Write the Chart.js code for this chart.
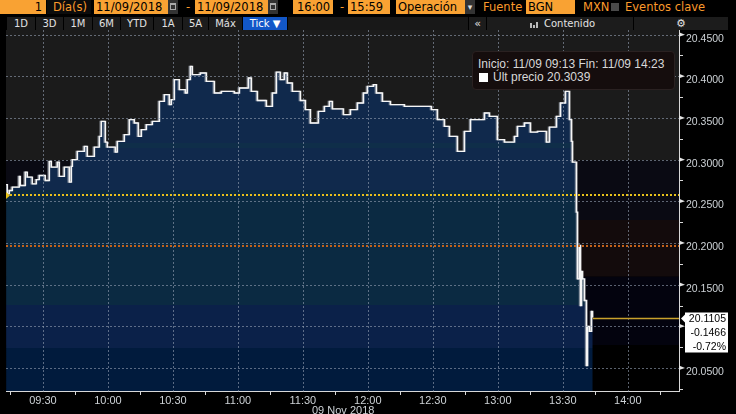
<!DOCTYPE html>
<html>
<head>
<meta charset="utf-8">
<script src="https://cdn.jsdelivr.net/npm/chart.js@4.4.1/dist/chart.umd.min.js"></script>
<style>
html, body { margin: 0; padding: 0; background: #000; width: 736px; height: 414px; overflow: hidden; }
body { position: relative; font-family: "DejaVu Sans", sans-serif; }
.a { position: absolute; white-space: nowrap; box-sizing: border-box; }
.ob { top: 0; height: 14px; line-height: 14px; font-size: 11.5px; background: #f9a233; color: #000; padding-left: 2px; }
.ot { top: 0; height: 14px; line-height: 14px; font-size: 11.5px; color: #fb9a2b; }
.ic { top: 0; height: 14px; width: 10px; background: #333; }
.ic i { position: absolute; left: 2px; top: 3px; width: 6px; height: 7px; border: 1px solid #aaa; border-top-width: 2px; box-sizing: border-box; }
.tab { top: 17px; height: 13px; line-height: 13px; font-size: 10px; color: #e2e2e2; text-align: center; background: #1c1c1c; }
</style>
</head>
<body>
<!-- top bar -->
<div class="a ob" style="left:0;width:46px;text-align:right;padding-right:4px">1</div>
<div class="a" style="left:47px;top:0;width:44px;height:14px;background:#0c0c0c"></div>
<div class="a ot" style="left:53px">Día(s)</div>
<div class="a ob" style="left:94px;width:74px">11/09/2018</div>
<div class="a ic" style="left:168px"><i></i></div>
<div class="a ot" style="left:186px">-</div>
<div class="a ob" style="left:195px;width:73px">11/09/2018</div>
<div class="a ic" style="left:268px"><i></i></div>
<div class="a ob" style="left:293px;width:40px;padding-left:4px">16:00</div>
<div class="a ot" style="left:340px">-</div>
<div class="a ob" style="left:348px;width:42px">15:59</div>
<div class="a ob" style="left:396px;width:69px">Operación</div>
<div class="a ic" style="left:465px;color:#ddd;font-size:9px;line-height:14px;text-align:center">▾</div>
<div class="a ot" style="left:483px">Fuente</div>
<div class="a ob" style="left:526px;width:49px">BGN</div>
<div class="a ot" style="left:583px">MXN</div>
<div class="a" style="left:611px;top:3px;width:8px;height:8px;background:#4a4a4a"></div>
<div class="a ot" style="left:625px">Eventos clave</div>

<!-- tab row -->
<div class="a tab" style="left:7px;width:28px">1D</div>
<div class="a tab" style="left:36px;width:27px">3D</div>
<div class="a tab" style="left:64px;width:28px">1M</div>
<div class="a tab" style="left:93px;width:27px">6M</div>
<div class="a tab" style="left:121px;width:32px">YTD</div>
<div class="a tab" style="left:154px;width:28px">1A</div>
<div class="a tab" style="left:183px;width:25px">5A</div>
<div class="a tab" style="left:209px;width:33px">Máx</div>
<div class="a tab" style="left:243px;width:44px;background:#1257c8;color:#fff">Tick ▼</div>
<div class="a tab" style="left:288px;width:180px;background:#181818"></div>
<div class="a tab" style="left:469px;width:17px;font-size:11px">«</div>
<div class="a tab" style="left:487px;width:146px"></div>
<div class="a" style="left:530px;top:23px;width:2px;height:5px;background:#bbb"></div>
<div class="a" style="left:533px;top:25px;width:2px;height:3px;background:#bbb"></div>
<div class="a" style="left:536px;top:22px;width:2px;height:6px;background:#bbb"></div>
<div class="a tab" style="left:544px;width:60px;background:transparent;text-align:left">Contenido</div>
<div class="a tab" style="left:634px;width:94px;font-size:11px">⚙</div>

<canvas id="c" width="736" height="384" style="position:absolute;left:0;top:30px"></canvas>

<!-- info box -->
<div class="a" style="left:472px;top:51px;width:203px;height:39px;background:#150d0d;border:1px solid #2a2121;border-radius:4px;font-family:'Liberation Sans',sans-serif;font-size:12px;color:#d8d8d8;z-index:3">
  <div style="position:absolute;left:5px;top:6px;line-height:13px">Inicio: 11/09 09:13 Fin: 11/09 14:23</div>
  <div style="position:absolute;left:6px;top:21px;width:9px;height:9px;background:#fff"></div>
  <div style="position:absolute;left:20px;top:19px;line-height:13px">Últ precio 20.3039</div>
</div>
<div class="a" style="left:312px;top:404px;line-height:12px;font-family:'Liberation Sans',sans-serif;font-size:11px;color:#cdd2d6;z-index:3">09 Nov 2018</div>

<script>
// tick data, 09 Nov 2018
const tickTimes = [
  '09:13:00','09:13:36','09:14:32','09:15:55','09:19:09','09:19:37','09:21:55','09:22:50','09:25:09','09:27:00',
  '09:28:23','09:31:09','09:33:00','09:33:56','09:36:42','09:37:37','09:39:56','09:42:14','09:43:10','09:43:38',
  '09:45:56','09:49:10','09:50:33','09:53:47','09:56:06','09:57:01','09:58:52','09:59:47','10:03:29','10:04:25',
  '10:07:38','10:09:57','10:12:16','10:14:07','10:15:30','10:17:49','10:20:35','10:23:49','10:26:07','10:28:26',
  '10:29:21','10:30:44','10:33:03','10:35:49','10:36:44','10:38:08','10:39:03','10:42:45','10:45:31','10:49:13',
  '10:52:27','10:58:27','11:00:46','11:04:55','11:06:18','11:09:05','11:13:14','11:16:00','11:17:51','11:19:42',
  '11:21:33','11:22:56','11:25:14','11:28:56','11:31:15','11:33:34','11:37:15','11:40:01','11:42:20','11:43:43',
  '11:48:48','11:52:02','11:55:16','11:58:02','11:59:53','12:02:40','12:04:02','12:06:49','12:10:31','12:16:58',
  '12:29:27','12:32:13','12:35:27','12:37:46','12:41:27','12:44:41','12:47:28','12:53:56','12:56:14','12:59:56',
  '13:03:10','13:07:47','13:09:10','13:12:24','13:15:10','13:18:25','13:22:34','13:23:57','13:27:11','13:29:02',
  '13:31:20','13:33:11','13:34:07','13:34:34','13:36:25','13:36:53','13:37:48','13:38:16','13:38:44','13:39:12',
  '13:40:07','13:41:02','13:41:30','13:42:25','13:43:21','13:43:49'
]
const tickPrices = [
  20.270, 20.259, 20.263, 20.267, 20.280, 20.269, 20.285, 20.279, 20.271, 20.276,
  20.281, 20.275, 20.298, 20.291, 20.297, 20.280, 20.291, 20.273, 20.292, 20.300,
  20.310, 20.316, 20.304, 20.315, 20.328, 20.346, 20.321, 20.315, 20.309, 20.322,
  20.330, 20.348, 20.344, 20.328, 20.336, 20.342, 20.346, 20.370, 20.378, 20.366,
  20.372, 20.396, 20.384, 20.380, 20.396, 20.412, 20.402, 20.404, 20.394, 20.380,
  20.382, 20.380, 20.386, 20.398, 20.382, 20.371, 20.364, 20.380, 20.405, 20.396,
  20.404, 20.392, 20.382, 20.371, 20.360, 20.344, 20.358, 20.364, 20.370, 20.361,
  20.354, 20.360, 20.368, 20.380, 20.388, 20.390, 20.380, 20.370, 20.366, 20.364,
  20.360, 20.348, 20.340, 20.328, 20.310, 20.334, 20.348, 20.356, 20.352, 20.324,
  20.321, 20.328, 20.340, 20.344, 20.333, 20.334, 20.321, 20.339, 20.352, 20.368,
  20.382, 20.348, 20.322, 20.297, 20.237, 20.157, 20.197, 20.125, 20.166, 20.157,
  20.131, 20.053, 20.100, 20.094, 20.118, 20.1105
]
const timeLabels = ['09:30', '10:00', '10:30', '11:00', '11:30', '12:00', '12:30', '13:00', '13:30', '14:00']
const priceLabels = ['20.0500', '20.1000', '20.1500', '20.2000', '20.2500', '20.3000', '20.3500', '20.4000', '20.4500']
const prevClose = 20.2571
const avgLine = 20.1968
const lastPrice = 20.1105
const lastBox = ['20.1105', '-0.1466', '-0.72%']

// price bands behind the chart and inside the area fill
const bgEdges = [20.4556, 20.2990, 20.2276, 20.1596, 20.0776, 20.0224]
const bgColors = ['#1b1b1b', '#0a0a13', '#130b0c', '#03030e', '#000000']
const fillEdges = [20.4556, 20.3204, 20.3137, 20.2636, 20.1256, 20.0737, 20.0224]
const fillColors = ['#10294c', '#0f2e49', '#10294c', '#0b2a42', '#0b2149', '#011b3d']

const toMin = (s) => {
    const p = s.split(':').map(Number)
    return p[0] * 60 + p[1] + (p[2] || 0) / 60
}
const fmtMin = (m) => {
    const h = Math.floor(m / 60)
    const mm = Math.round(m - h * 60)
    return String(h).padStart(2, '0') + ':' + String(mm).padStart(2, '0')
}

const xMajor = timeLabels.map(toMin)
const xMinor = xMajor.map((v) => v - 15).concat([xMajor[xMajor.length - 1] + 15])
const yMajor = priceLabels.map(Number)
const yMinor = yMajor.map((v) => v - 0.025)
const gridCol = 'rgba(150,162,180,0.6)'

Chart.defaults.font.family = "'Liberation Sans', Arial, sans-serif"

const overlay = {
    id: 'overlay',
    beforeDraw(chart) {
        const { ctx, chartArea: a, scales: { y } } = chart
        for (let i = 0; i < bgColors.length; i++) {
            const t = y.getPixelForValue(bgEdges[i])
            const b = y.getPixelForValue(bgEdges[i + 1])
            ctx.fillStyle = bgColors[i]
            ctx.fillRect(a.left, t, a.right - a.left, b - t)
        }
    },
    beforeDatasetDraw(chart) {
        const ctx = chart.ctx
        ctx.save()
        ctx.shadowColor = 'rgba(165,170,180,0.85)'
        ctx.shadowOffsetX = -1.2
        ctx.shadowOffsetY = 0
        ctx.shadowBlur = 0
    },
    afterDatasetDraw(chart) {
        chart.ctx.restore()
    },
    afterDraw(chart) {
        const { ctx, chartArea: a, scales: { x, y } } = chart
        const seg = (x1, y1, x2, y2) => {
            ctx.beginPath()
            ctx.moveTo(x1, y1)
            ctx.lineTo(x2, y2)
            ctx.stroke()
        }
        ctx.save()
        // dotted grid, one pixel dots
        ctx.fillStyle = gridCol
        xMajor.forEach((v) => {
            const px = Math.round(x.getPixelForValue(v))
            for (let py = Math.ceil(a.top); py < a.bottom; py += 4) ctx.fillRect(px, py, 1, 2)
        })
        yMajor.forEach((v) => {
            const py = Math.round(y.getPixelForValue(v))
            for (let px = Math.ceil(a.left); px < a.right; px += 4) ctx.fillRect(px, py, 2, 1)
        })
        // minor tick marks
        ctx.fillStyle = '#d8d8d8'
        xMinor.forEach((v) => {
            ctx.fillRect(Math.round(x.getPixelForValue(v)), a.bottom, 1, 4)
        })
        yMinor.forEach((v) => {
            ctx.fillRect(a.right, Math.round(y.getPixelForValue(v)), 4, 1)
        })
        // previous close and average dotted lines
        ctx.lineWidth = 2
        ctx.setLineDash([2, 2])
        ;[[prevClose, '#e8c21a'], [avgLine, '#c4621a']].forEach(([v, c]) => {
            const py = Math.round(y.getPixelForValue(v))
            ctx.strokeStyle = c
            seg(a.left, py, a.right, py)
        })
        ctx.setLineDash([])
        // yellow marker at left edge
        const pc = y.getPixelForValue(prevClose)
        ctx.fillStyle = '#e8c21a'
        ctx.beginPath()
        ctx.moveTo(a.left, pc - 3.5)
        ctx.lineTo(a.left + 4, pc)
        ctx.lineTo(a.left, pc + 3.5)
        ctx.fill()
        // last price line
        const ly = Math.round(y.getPixelForValue(lastPrice)) + 0.5
        const lx = x.getPixelForValue(toMin(tickTimes[tickTimes.length - 1]))
        ctx.strokeStyle = '#c9a22c'
        ctx.lineWidth = 1.3
        seg(lx, ly, a.right, ly)
        // major tick flags on the price axis
        ctx.fillStyle = '#e6e6e6'
        yMajor.forEach((v) => {
            const py = y.getPixelForValue(v)
            ctx.beginPath()
            ctx.moveTo(a.right, py - 2.5)
            ctx.lineTo(a.right + 6, py)
            ctx.lineTo(a.right, py + 2)
            ctx.fill()
        })
        // last value box
        ctx.fillStyle = '#ffffff'
        ctx.beginPath()
        ctx.moveTo(a.right + 2, ly)
        ctx.lineTo(a.right + 6, ly - 4)
        ctx.lineTo(a.right + 6, ly - 6)
        ctx.lineTo(a.right + 49, ly - 6)
        ctx.lineTo(a.right + 49, ly + 34)
        ctx.lineTo(a.right + 6, ly + 34)
        ctx.lineTo(a.right + 6, ly + 4)
        ctx.fill()
        ctx.fillStyle = '#000'
        ctx.font = "10.5px 'Liberation Sans', Arial, sans-serif"
        ctx.textAlign = 'right'
        ctx.textBaseline = 'middle'
        lastBox.forEach((t, i) => {
            ctx.fillText(t, a.right + 47, ly + 1 + i * 13.7)
        })
        ctx.restore()
    },
}

new Chart(document.getElementById('c').getContext('2d'), {
    type: 'line',
    data: {
        datasets: [
            {
                label: 'USDMXN',
                data: tickTimes.map((t, i) => ({ x: toMin(t), y: tickPrices[i] })),
                stepped: true,
                borderColor: '#f6f6f6',
                borderWidth: 1.4,
                pointRadius: 0,
                fill: 'start',
                backgroundColor: (c) => {
                    const chart = c.chart
                    const area = chart.chartArea
                    if (!area) return fillColors[0]
                    const y = chart.scales.y
                    const h = area.bottom - area.top
                    const g = chart.ctx.createLinearGradient(0, area.top, 0, area.bottom)
                    for (let i = 0; i < fillColors.length; i++) {
                        const f0 = Math.min(1, Math.max(0, (y.getPixelForValue(fillEdges[i]) - area.top) / h))
                        const f1 = Math.min(1, Math.max(0, (y.getPixelForValue(fillEdges[i + 1]) - area.top) / h))
                        g.addColorStop(f0, fillColors[i])
                        g.addColorStop(f1, fillColors[i])
                    }
                    return g
                },
            },
        ],
    },
    options: {
        responsive: false,
        animation: false,
        devicePixelRatio: 1,
        layout: { padding: { left: 6, right: 0, top: 0, bottom: 0 } },
        plugins: { legend: { display: false }, tooltip: { enabled: false } },
        scales: {
            x: {
                type: 'linear',
                min: 552.95,
                max: 863.65,
                afterBuildTicks: (s) => {
                    s.ticks = xMajor.map((v) => ({ value: v }))
                },
                afterFit: (s) => {
                    s.height = 23
                    s.paddingLeft = 0
                    s.paddingRight = 0
                },
                ticks: {
                    autoSkip: false,
                    maxRotation: 0,
                    padding: 0,
                    color: '#cdd2d6',
                    font: { size: 11 },
                    callback: (v) => fmtMin(v),
                },
                grid: { drawOnChartArea: false, tickLength: 3, tickColor: 'rgba(0,0,0,0)' },
                border: { color: '#d8d8d8', width: 1 },
            },
            y: {
                type: 'linear',
                position: 'right',
                min: 20.0224,
                max: 20.4556,
                afterBuildTicks: (s) => {
                    s.ticks = yMajor.map((v) => ({ value: v }))
                },
                afterFit: (s) => {
                    s.width = 57
                    s.paddingTop = 0
                    s.paddingBottom = 0
                },
                ticks: {
                    padding: 4,
                    labelOffset: 4,
                    color: '#cdd2d6',
                    font: { size: 10.5 },
                    callback: (v) => v.toFixed(4),
                },
                grid: { drawOnChartArea: false, tickLength: 3, tickColor: 'rgba(0,0,0,0)' },
                border: { color: '#d8d8d8', width: 1 },
            },
        },
    },
    plugins: [overlay],
})
</script>
</body>
</html>
